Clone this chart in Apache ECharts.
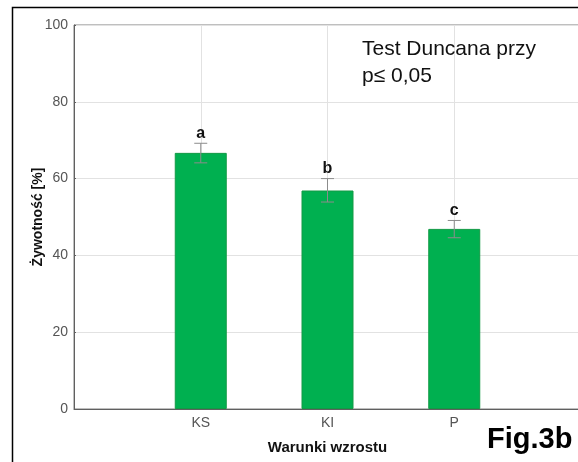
<!DOCTYPE html>
<html>
<head>
<meta charset="utf-8">
<script src="https://cdn.jsdelivr.net/npm/echarts@6/dist/echarts.min.js"></script>
<style>
  html, body { margin: 0; padding: 0; background: #fff; overflow: hidden; }
  #chart { width: 600px; height: 462px; }
</style>
</head>
<body>
<div id="chart"></div>
<script>
// Growth conditions and mean viability (%) with error ranges
const categories = ['KS', 'KI', 'P'];
const viability = [66.7, 56.9, 46.9];
const errLow = [64.1, 53.9, 44.6];
const errHigh = [69.2, 60.0, 49.1];
const groupLetters = ['a', 'b', 'c'];
const yTicks = [0, 20, 40, 60, 80, 100];

const FONT = '"Liberation Sans", Arial, sans-serif';

// categories sit at positions 1..n on a numeric axis running 0..n+1
const barData = viability.map((v, i) => [i + 1, v]);
const errData = viability.map((v, i) => [i + 1, errLow[i], errHigh[i], groupLetters[i]]);

const chart = echarts.init(document.getElementById('chart'));
chart.setOption({
  animation: false,
  backgroundColor: '#fff',
  grid: {
    left: 74, width: 507, top: 25, bottom: 53,
    show: true, borderColor: '#7f7f7f', borderWidth: 1
  },
  xAxis: {
    type: 'value',
    min: 0, max: categories.length + 1, interval: 1,
    name: 'Warunki wzrostu',
    nameLocation: 'middle',
    nameGap: 31,
    nameMoveOverlap: false,
    nameTextStyle: { fontFamily: FONT, fontSize: 15, fontWeight: 'bold', color: '#111' },
    axisLine: { show: true, lineStyle: { color: '#606060', width: 1 } },
    axisTick: { show: true, inside: true, length: 3, lineStyle: { color: '#606060' } },
    axisLabel: {
      margin: 7,
      fontFamily: FONT, fontSize: 14, color: '#555',
      formatter: v => categories[v - 1] || ''
    },
    splitLine: { show: true, lineStyle: { color: '#e2e2e2', width: 1 } }
  },
  yAxis: {
    type: 'value',
    min: yTicks[0], max: yTicks[yTicks.length - 1], interval: 20,
    name: 'Żywotność [%]',
    nameLocation: 'middle',
    nameGap: 29,
    nameRotate: 90,
    nameMoveOverlap: false,
    nameTextStyle: { fontFamily: FONT, fontSize: 14, fontWeight: 'bold', color: '#111' },
    axisLine: { show: true, lineStyle: { color: '#606060', width: 1 } },
    axisTick: { show: true, inside: true, length: 2, lineStyle: { color: '#606060' } },
    axisLabel: { margin: 6, fontFamily: FONT, fontSize: 14, color: '#555' },
    splitLine: { show: true, lineStyle: { color: '#e2e2e2', width: 1 } }
  },
  series: [
    {
      type: 'bar',
      data: barData,
      barWidth: 52,
      itemStyle: { color: '#00b050', borderColor: '#129a45', borderWidth: 1 },
      z: 2
    },
    {
      type: 'custom',
      data: errData,
      encode: { x: 0, y: [1, 2] },
      z: 3,
      renderItem: function (params, api) {
        const x = api.value(0);
        const lo = api.coord([x, api.value(1)]);
        const hi = api.coord([x, api.value(2)]);
        const cap = 6.5;
        const stroke = { stroke: '#8c8c8c', lineWidth: 1 };
        return {
          type: 'group',
          children: [
            { type: 'line', shape: { x1: hi[0], y1: hi[1], x2: lo[0], y2: lo[1] }, style: stroke },
            { type: 'line', shape: { x1: hi[0] - cap, y1: hi[1], x2: hi[0] + cap, y2: hi[1] }, style: stroke },
            { type: 'line', shape: { x1: lo[0] - cap, y1: lo[1], x2: lo[0] + cap, y2: lo[1] }, style: stroke },
            {
              type: 'text',
              x: hi[0], y: hi[1] - 2,
              style: {
                text: api.value(3),
                font: 'bold 16px ' + FONT,
                fill: '#111',
                align: 'center',
                verticalAlign: 'bottom'
              }
            }
          ]
        };
      }
    }
  ],
  graphic: [
    {
      type: 'rect',
      shape: { x: 12.5, y: 7.5, width: 700, height: 600 },
      style: { fill: 'none', stroke: '#000', lineWidth: 1.5 },
      silent: true, z: 10
    },
    {
      type: 'text',
      left: 362, top: 36,
      style: {
        text: 'Test Duncana przy\np≤ 0,05',
        font: '21px ' + FONT,
        lineHeight: 27,
        fill: '#111'
      },
      z: 10
    },
    {
      type: 'text',
      left: 487, top: 425,
      style: {
        text: 'Fig.3b',
        font: 'bold 29px ' + FONT,
        fill: '#000'
      },
      z: 10
    }
  ]
});
</script>
</body>
</html>
